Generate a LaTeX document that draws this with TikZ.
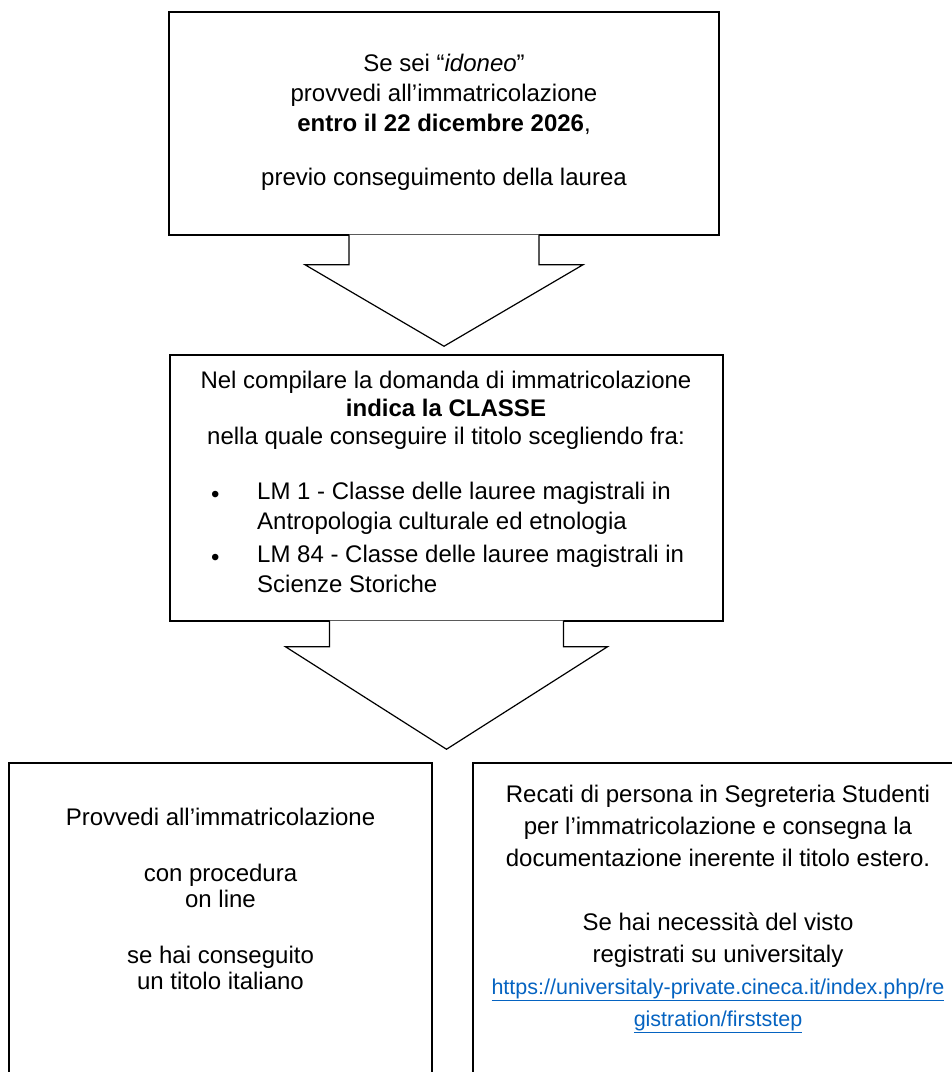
\documentclass[tikz,border=0pt]{standalone}
\usepackage{fontspec}
\setmainfont{Liberation Sans}
\usetikzlibrary{calc}
\definecolor{linkblue}{HTML}{0563C1}
\begin{document}
\begin{tikzpicture}[x=1pt,y=1pt,
	box/.style={draw,line width=1.5pt,inner sep=0pt},
	blockarrow/.style={draw,fill=white,line width=1.2pt,line join=miter},
	txt/.style={inner sep=0pt,align=center,font=\fontsize{24}{#1}\selectfont}]
	\useasboundingbox (0,0) rectangle (952,1072);
	\node [box,minimum width=550pt,minimum height=223pt] (top) at (444,948.5) {};
	\node [box,minimum width=553pt,minimum height=266pt] (mid) at (446.5,584) {};
	\node [box,minimum width=423pt,minimum height=329pt] (botL) at (220.5,144.5) {};
	\node [box,minimum width=490pt,minimum height=329pt] (botR) at (718,144.5) {};
	\node [txt=30,anchor=north] (topText) at (444,1021) {\rule{0pt}{20pt}Se sei “\emph{idoneo}”\\ provvedi all’immatricolazione\\ \textbf{entro il 22 dicembre 2026},\\[24pt] previo conseguimento della laurea};
	\node [txt=28,anchor=north] (midHead) at (446,704) {\rule{0pt}{20pt}Nel compilare la domanda di immatricolazione\\ \textbf{indica la CLASSE}\\ nella quale conseguire il titolo scegliendo fra:};
	\node [txt=30,align=left,anchor=north west] (midList) at (211,593) {\rule{0pt}{20pt}\makebox[46pt][l]{\raisebox{-3pt}{\textbullet}}LM 1 - Classe delle lauree magistrali in\\ \hspace*{46pt}Antropologia culturale ed etnologia\\[3pt] \makebox[46pt][l]{\raisebox{-3pt}{\textbullet}}LM 84 - Classe delle lauree magistrali in\\ \hspace*{46pt}Scienze Storiche};
	\node [txt=26,anchor=north] (botLText) at (220.5,267) {\rule{0pt}{20pt}Provvedi all’immatricolazione\\[30pt] con procedura\\ on line\\[30pt] se hai conseguito\\ un titolo italiano};
	\node [txt=32,anchor=north] (botRText) at (718,290) {\rule{0pt}{20pt}Recati di persona in Segreteria Studenti\\ per l’immatricolazione e consegna la\\ documentazione inerente il titolo estero.\\[32pt] Se hai necessità del visto\\ registrati su universitaly\\ {\color{linkblue}\fontsize{21.5}{32}\selectfont\underline{https://universitaly-private.cineca.it/index.php/re}}\\ {\color{linkblue}\fontsize{21.5}{32}\selectfont\underline{gistration/firststep}}};
	\coordinate (tipA) at ($(top.south |- mid.north)+(0,8)$);
	\filldraw [blockarrow] ($(top.south)+(-95,1)$) -- ++(0,-30) -- ++(-44,0) -- (tipA) -- ($(top.south)+(139,-29)$) -- ++(-44,0) -- ++(0,30);
	\coordinate (tipB) at ($(mid.south |- botL.north)+(0,13)$);
	\filldraw [blockarrow] ($(mid.south)+(-117,1)$) -- ++(0,-26) -- ++(-44,0) -- (tipB) -- ($(mid.south)+(161,-25)$) -- ++(-44,0) -- ++(0,26);
\end{tikzpicture}
\end{document}
